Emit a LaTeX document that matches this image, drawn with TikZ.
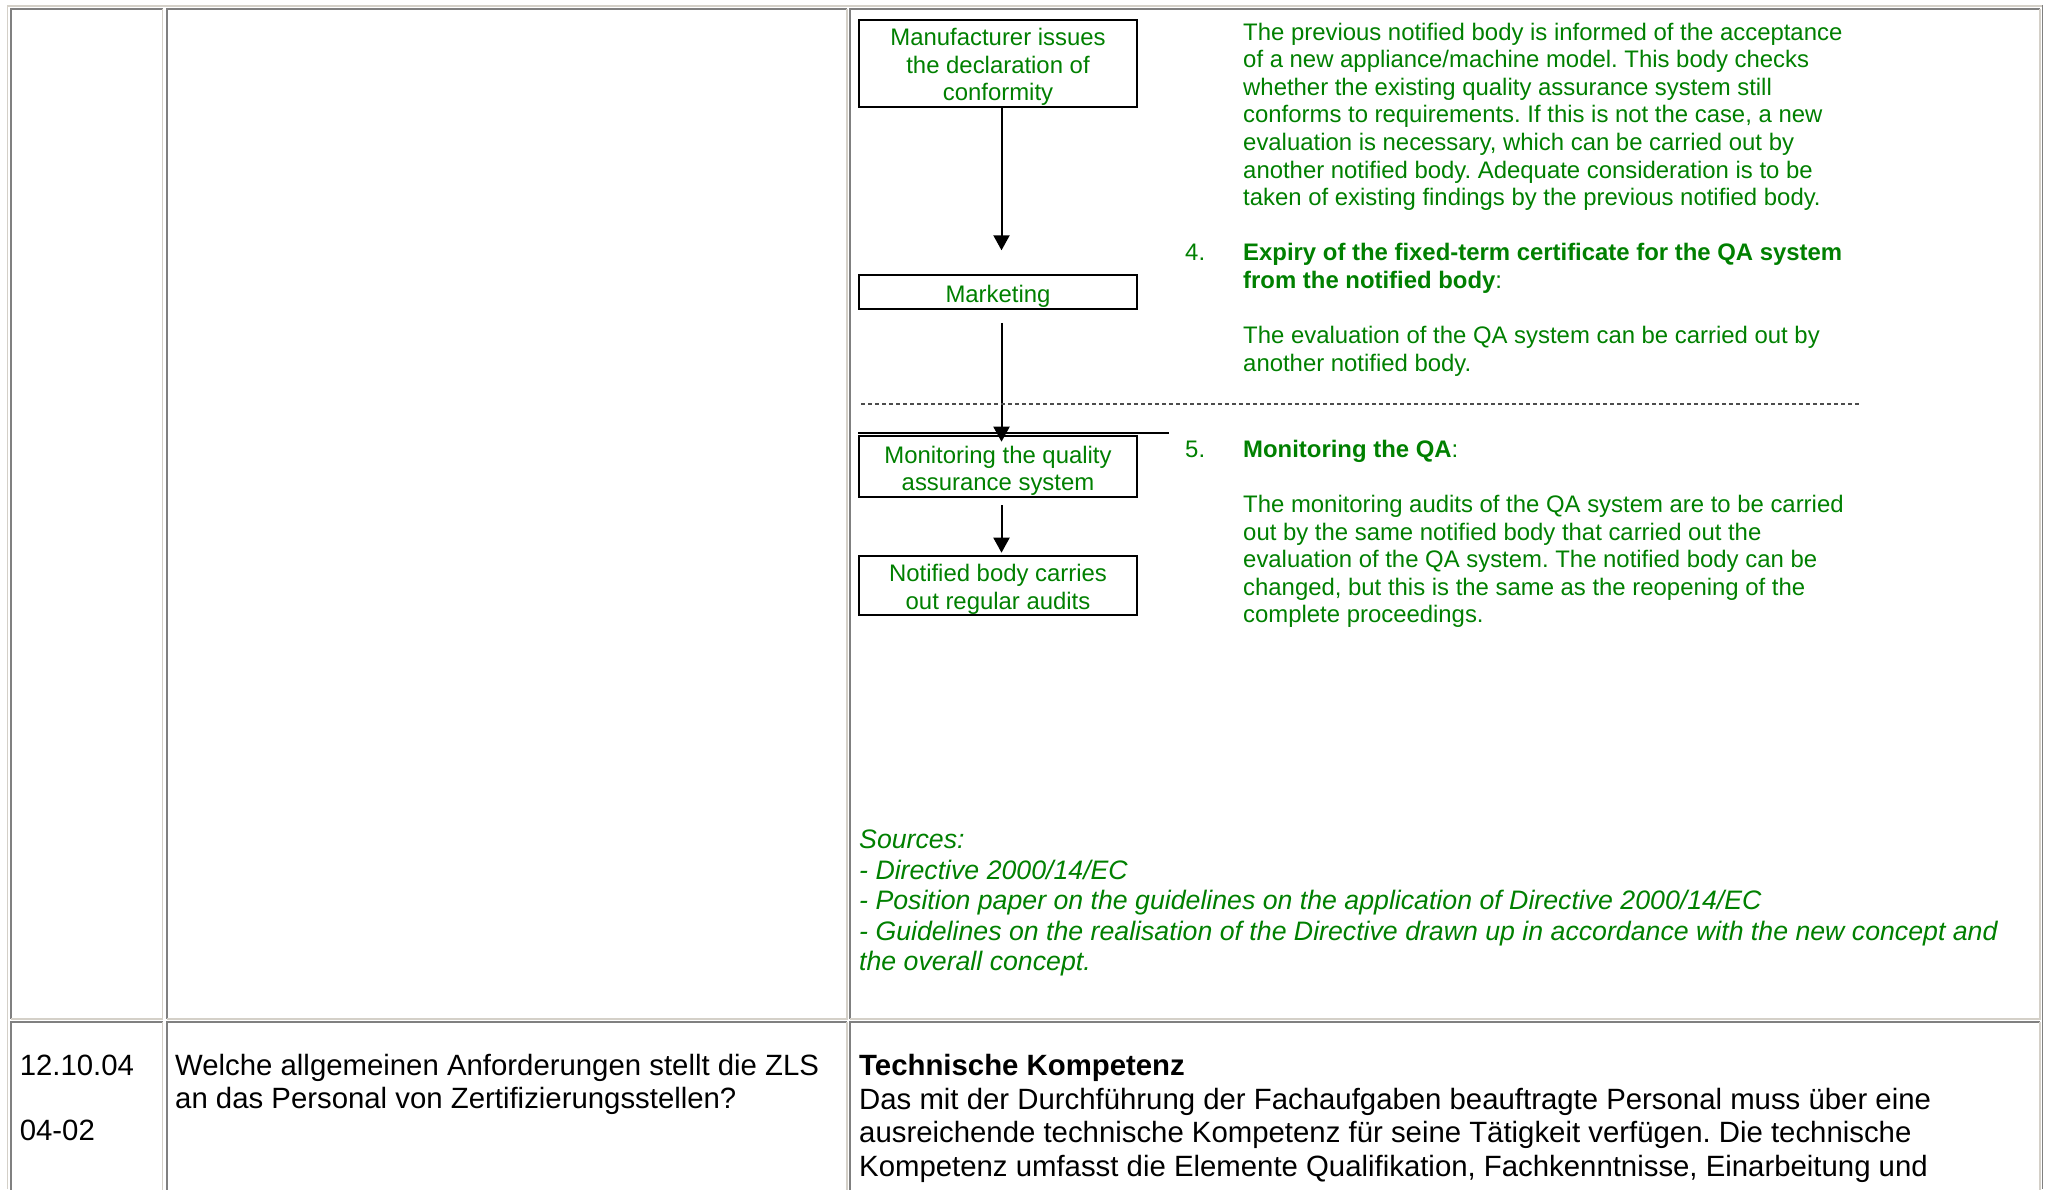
\documentclass[tikz,border=0pt]{standalone}
\usepackage{fontspec}
\setmainfont{Liberation Sans}
\usetikzlibrary{arrows.meta}
\frenchspacing
\definecolor{tlight}{RGB}{212,208,200}
\definecolor{tdark}{RGB}{128,128,128}
\definecolor{htmlgreen}{RGB}{0,128,0}
\newcommand\myGreenFont{\fontsize{23.9pt}{27.6pt}\selectfont}
\newcommand\mySrcFont{\fontsize{26.7pt}{30.5pt}\selectfont\itshape}
\newcommand\myBlackFont{\fontsize{29.35pt}{33pt}\selectfont}
\newcommand\myTopStrut{\rule{0pt}{25pt}}
\tikzset{
  gtxt/.style={anchor=base west, inner sep=0pt, text=htmlgreen, font=\myGreenFont},
  stxt/.style={anchor=base west, inner sep=0pt, text=htmlgreen, font=\mySrcFont},
  btxt/.style={anchor=base west, inner sep=0pt, text=black, font=\myBlackFont},
  flowbox/.style={draw=black, line width=2pt, minimum width=278pt, inner sep=0pt,
    align=center, text=htmlgreen, font=\myGreenFont},
  flowarrow/.style={line width=2pt, -{Triangle[width=16pt,length=15pt]}},
  darkedge/.style={draw=tdark, line width=1.7pt},
  lightedge/.style={draw=tlight, line width=1.7pt},
}
\begin{document}
\begin{tikzpicture}[x=1pt,y=-1pt]
\useasboundingbox (0,0) rectangle (2049,1189);
\fill[white] (0,0) rectangle (2049,1189);
% outer table
\draw[lightedge] (7.5,1189) -- (7.5,5.7) -- (2043,5.7);
\draw[darkedge] (2042.5,5) -- (2042.5,1189);
% cells
\foreach \xa/\xb in {10.8/162.5, 166.7/846.7, 849.7/2039.7}{
  \foreach \ya/\yb in {8.7/1018.7, 1021.8/1200}{
    \draw[darkedge] (\xa,\yb) -- (\xa,\ya) -- (\xb,\ya);
    \draw[lightedge] (\xb,\ya) -- (\xb,\yb) -- (\xa,\yb);
  }
}
% flowchart
\node[flowbox, minimum height=87pt] (b1) at (998,63.3) {\myTopStrut Manufacturer issues\\the declaration of\\conformity};
\node[flowbox, minimum height=34pt] (b2) at (998,292.3) {\myTopStrut Marketing};
\node[flowbox, minimum height=61pt] (b3) at (998,466.8) {\myTopStrut Monitoring the quality\\assurance system};
\node[flowbox, minimum height=59pt] (b4) at (998,585.2) {\myTopStrut Notified body carries\\out regular audits};
\draw[flowarrow, shorten >=24pt] ([xshift=3.5pt]b1.south) -- ([xshift=3.5pt]b2.north);
\draw[flowarrow, shorten <=12.6pt, shorten >=-6.4pt] ([xshift=3.5pt]b2.south) -- ([xshift=3.5pt]b3.north);
\draw[flowarrow, shorten <=7pt, shorten >=2pt] ([xshift=3.5pt]b3.south) -- ([xshift=3.5pt]b4.north);
\coordinate (hl) at ([yshift=2.5pt]b3.north west);
\draw[line width=1.5pt] (hl) -- ++(311,0);
\coordinate (dl1) at (861,404);
\coordinate (dl2) at (1861,404);
\draw[black!70, line width=1.2pt, dash pattern=on 4pt off 3pt] (dl1) -- (dl2);
% green text
\node[gtxt] (p1) at (1243,40) {The previous notified body is informed of the acceptance};
\node[gtxt] (p2) at (1243,67.6) {of a new appliance/machine model. This body checks};
\node[gtxt] (p3) at (1243,95.2) {whether the existing quality assurance system still};
\node[gtxt] (p4) at (1243,122.8) {conforms to requirements. If this is not the case, a new};
\node[gtxt] (p5) at (1243,150.4) {evaluation is necessary, which can be carried out by};
\node[gtxt] (p6) at (1243,178) {another notified body. Adequate consideration is to be};
\node[gtxt] (p7) at (1243,205.6) {taken of existing findings by the previous notified body.};
\node[gtxt] (n4) at (1185,260.7) {4.};
\node[gtxt] (h4a) at (1243,260.7) {\bfseries Expiry of the fixed-term certificate for the QA system};
\node[gtxt] (h4b) at (1243,288.3) {\textbf{from the notified body}:};
\node[gtxt] (q1) at (1243,343.3) {The evaluation of the QA system can be carried out by};
\node[gtxt] (q2) at (1243,371) {another notified body.};
\node[gtxt] (n5) at (1185,457) {5.};
\node[gtxt] (h5) at (1243,457) {\textbf{Monitoring the QA}:};
\node[gtxt] (r1) at (1243,512.5) {The monitoring audits of the QA system are to be carried};
\node[gtxt] (r2) at (1243,540) {out by the same notified body that carried out the};
\node[gtxt] (r3) at (1243,567.6) {evaluation of the QA system. The notified body can be};
\node[gtxt] (r4) at (1243,595.2) {changed, but this is the same as the reopening of the};
\node[gtxt] (r5) at (1243,622.8) {complete proceedings.};
% sources
\node[stxt] (s1) at (859,848.5) {Sources:};
\node[stxt] (s2) at (859,879) {- Directive 2000/14/EC};
\node[stxt] (s3) at (859,909.5) {- Position paper on the guidelines on the application of Directive 2000/14/EC};
\node[stxt] (s4) at (859,940) {- Guidelines on the realisation of the Directive drawn up in accordance with the new concept and};
\node[stxt] (s5) at (859,970.5) {the overall concept.};
% row 2
\node[btxt] (d1) at (19.6,1075.5) {12.10.04};
\node[btxt] (d2) at (19.6,1140.5) {04-02};
\node[btxt] (w1) at (175,1075.5) {Welche allgemeinen Anforderungen stellt die ZLS};
\node[btxt] (w2) at (175,1108.5) {an das Personal von Zertifizierungsstellen?};
\node[btxt] (t1) at (859,1075.5) {\bfseries Technische Kompetenz};
\node[btxt] (t2) at (859,1109) {Das mit der Durchführung der Fachaufgaben beauftragte Personal muss über eine};
\node[btxt] (t3) at (859,1142.5) {ausreichende technische Kompetenz für seine Tätigkeit verfügen. Die technische};
\node[btxt] (t4) at (859,1176) {Kompetenz umfasst die Elemente Qualifikation, Fachkenntnisse, Einarbeitung und};
\end{tikzpicture}
\end{document}
